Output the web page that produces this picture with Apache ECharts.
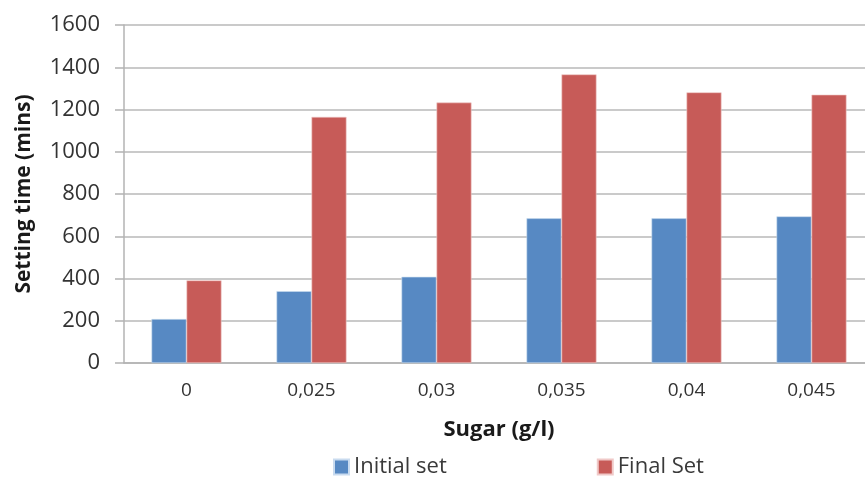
<!DOCTYPE html>
<html>
<head>
<meta charset="utf-8">
<title>Setting time vs sugar</title>
<script src="https://cdn.jsdelivr.net/npm/echarts@6/dist/echarts.min.js"></script>
<style>
  html, body { margin: 0; padding: 0; background: #ffffff; overflow: hidden; }
  /* plot area runs slightly past the right edge of the page */
  #chart { width: 880px; height: 477px; }
</style>
</head>
<body>
<div id="chart"></div>
<script>
// Sugar dosage categories (g/l)
const categories = ['0', '0,025', '0,03', '0,035', '0,04', '0,045'];
// Setting times in minutes
const initialSet = [208, 340, 408, 685, 685, 694];
const finalSet = [391, 1165, 1233, 1366, 1281, 1270];
// Value-axis ticks
const yTicks = { min: 0, max: 1600, interval: 200 };

const FONT = '"Open Sans", "Noto Sans", sans-serif';
const chart = echarts.init(document.getElementById('chart'), null, { renderer: 'canvas' });

chart.setOption({
  animation: false,
  backgroundColor: '#ffffff',
  textStyle: { fontFamily: FONT },
  grid: { left: 124, top: 25, bottom: 114, width: 750, containLabel: false },
  legend: {
    left: 328,
    top: 451,
    itemWidth: 15,
    itemHeight: 15,
    itemGap: 150,
    icon: 'rect',
    textStyle: { fontFamily: FONT, fontSize: 22, color: '#3a3a3a' },
    data: ['Initial set', 'Final Set']
  },
  xAxis: {
    type: 'category',
    data: categories,
    name: 'Sugar (g/l)',
    nameLocation: 'middle',
    nameGap: 56,
    nameTextStyle: { fontFamily: FONT, fontSize: 22, fontWeight: 'bold', color: '#1a1a1a' },
    axisLine: { show: true, lineStyle: { color: '#b3b3b3', width: 1.5 } },
    axisTick: { show: false },
    axisLabel: { fontFamily: FONT, fontSize: 19, color: '#333333', margin: 18 }
  },
  yAxis: {
    type: 'value',
    min: yTicks.min,
    max: yTicks.max,
    interval: yTicks.interval,
    name: 'Setting time (mins)',
    nameLocation: 'middle',
    nameGap: 89,
    nameRotate: 90,
    nameTextStyle: { fontFamily: FONT, fontSize: 21, fontWeight: 'bold', color: '#1a1a1a' },
    axisLine: { show: true, lineStyle: { color: '#b3b3b3', width: 1.5 } },
    axisTick: { show: true, inside: false, length: 9, lineStyle: { color: '#b3b3b3', width: 1.5 } },
    axisLabel: {
      fontFamily: FONT, fontSize: 22, color: '#333333', margin: 24,
      formatter: (v) => String(v)
    },
    splitLine: { show: true, lineStyle: { color: '#b8b8b8', width: 1.5 } }
  },
  series: [
    {
      name: 'Initial set',
      type: 'bar',
      data: initialSet,
      barWidth: 35,
      barGap: '0%',
      itemStyle: { color: '#5789c3', borderColor: '#c9dbef', borderWidth: 0.6 }
    },
    {
      name: 'Final Set',
      type: 'bar',
      data: finalSet,
      barWidth: 35,
      barGap: '0%',
      itemStyle: { color: '#c75b58', borderColor: '#f0c9c8', borderWidth: 0.6 }
    }
  ]
});
</script>
</body>
</html>
